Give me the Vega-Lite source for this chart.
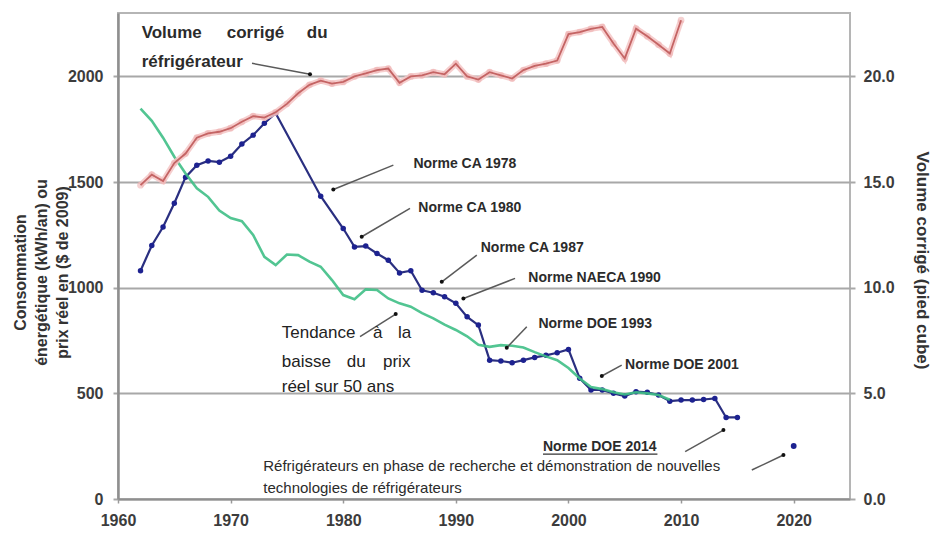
{
  "$schema": "https://vega.github.io/schema/vega-lite/v6.json",
  "width": 732,
  "height": 486,
  "autosize": {"type": "none"},
  "padding": {"left": 118, "top": 13, "right": 82, "bottom": 35},
  "background": "white",
  "config": {
    "font": "Liberation Sans",
    "view": {"stroke": "#b5b5b5", "strokeWidth": 2}
  },
  "datasets": {
    "conso": [
      {"year": 1962, "kwh": 1080}, {"year": 1963, "kwh": 1200}, {"year": 1964, "kwh": 1287}, {"year": 1965, "kwh": 1400},
      {"year": 1966, "kwh": 1523}, {"year": 1967, "kwh": 1580}, {"year": 1968, "kwh": 1600}, {"year": 1969, "kwh": 1594},
      {"year": 1970, "kwh": 1622}, {"year": 1971, "kwh": 1680}, {"year": 1972, "kwh": 1722}, {"year": 1973, "kwh": 1778},
      {"year": 1974, "kwh": 1826}, {"year": 1978, "kwh": 1433}, {"year": 1980, "kwh": 1280}, {"year": 1981, "kwh": 1193},
      {"year": 1982, "kwh": 1197}, {"year": 1983, "kwh": 1162}, {"year": 1984, "kwh": 1130}, {"year": 1985, "kwh": 1070},
      {"year": 1986, "kwh": 1080}, {"year": 1987, "kwh": 988}, {"year": 1988, "kwh": 976}, {"year": 1989, "kwh": 957},
      {"year": 1990, "kwh": 926}, {"year": 1991, "kwh": 862}, {"year": 1992, "kwh": 823}, {"year": 1993, "kwh": 657},
      {"year": 1994, "kwh": 653}, {"year": 1995, "kwh": 645}, {"year": 1996, "kwh": 657}, {"year": 1997, "kwh": 670},
      {"year": 1998, "kwh": 680}, {"year": 1999, "kwh": 692}, {"year": 2000, "kwh": 708}, {"year": 2001, "kwh": 571},
      {"year": 2002, "kwh": 516}, {"year": 2003, "kwh": 516}, {"year": 2004, "kwh": 500}, {"year": 2005, "kwh": 487},
      {"year": 2006, "kwh": 508}, {"year": 2007, "kwh": 505}, {"year": 2008, "kwh": 492}, {"year": 2009, "kwh": 463},
      {"year": 2010, "kwh": 468}, {"year": 2011, "kwh": 468}, {"year": 2012, "kwh": 471}, {"year": 2013, "kwh": 476},
      {"year": 2014, "kwh": 386}, {"year": 2015, "kwh": 386}
    ],
    "proto": [{"year": 2020, "kwh": 251}],
    "prix": [
      {"year": 1962, "prix": 1848}, {"year": 1963, "prix": 1790}, {"year": 1964, "prix": 1710}, {"year": 1965, "prix": 1620},
      {"year": 1966, "prix": 1540}, {"year": 1967, "prix": 1470}, {"year": 1968, "prix": 1430}, {"year": 1969, "prix": 1365},
      {"year": 1970, "prix": 1330}, {"year": 1971, "prix": 1315}, {"year": 1972, "prix": 1250}, {"year": 1973, "prix": 1146},
      {"year": 1974, "prix": 1107}, {"year": 1975, "prix": 1157}, {"year": 1976, "prix": 1154}, {"year": 1977, "prix": 1123},
      {"year": 1978, "prix": 1099}, {"year": 1979, "prix": 1036}, {"year": 1980, "prix": 965}, {"year": 1981, "prix": 945},
      {"year": 1982, "prix": 992}, {"year": 1983, "prix": 989}, {"year": 1984, "prix": 949}, {"year": 1985, "prix": 926},
      {"year": 1986, "prix": 910}, {"year": 1987, "prix": 880}, {"year": 1988, "prix": 855}, {"year": 1989, "prix": 825},
      {"year": 1990, "prix": 800}, {"year": 1991, "prix": 770}, {"year": 1992, "prix": 730}, {"year": 1993, "prix": 720},
      {"year": 1994, "prix": 728}, {"year": 1995, "prix": 725}, {"year": 1996, "prix": 717}, {"year": 1997, "prix": 695},
      {"year": 1998, "prix": 675}, {"year": 1999, "prix": 657}, {"year": 2000, "prix": 620}, {"year": 2001, "prix": 570},
      {"year": 2002, "prix": 530}, {"year": 2003, "prix": 520}, {"year": 2004, "prix": 505}, {"year": 2005, "prix": 495},
      {"year": 2006, "prix": 505}, {"year": 2007, "prix": 500}, {"year": 2008, "prix": 492}, {"year": 2009, "prix": 470}
    ],
    "volume": [
      {"year": 1962, "vol": 14.85}, {"year": 1963, "vol": 15.35}, {"year": 1964, "vol": 15.05}, {"year": 1965, "vol": 15.9},
      {"year": 1966, "vol": 16.35}, {"year": 1967, "vol": 17.1}, {"year": 1968, "vol": 17.3}, {"year": 1969, "vol": 17.38},
      {"year": 1970, "vol": 17.55}, {"year": 1971, "vol": 17.85}, {"year": 1972, "vol": 18.12}, {"year": 1973, "vol": 18.05},
      {"year": 1974, "vol": 18.3}, {"year": 1975, "vol": 18.7}, {"year": 1976, "vol": 19.2}, {"year": 1977, "vol": 19.6},
      {"year": 1978, "vol": 19.8}, {"year": 1979, "vol": 19.66}, {"year": 1980, "vol": 19.74}, {"year": 1981, "vol": 20.0},
      {"year": 1982, "vol": 20.14}, {"year": 1983, "vol": 20.3}, {"year": 1984, "vol": 20.37}, {"year": 1985, "vol": 19.7},
      {"year": 1986, "vol": 20.0}, {"year": 1987, "vol": 20.05}, {"year": 1988, "vol": 20.2}, {"year": 1989, "vol": 20.1},
      {"year": 1990, "vol": 20.6}, {"year": 1991, "vol": 20.0}, {"year": 1992, "vol": 19.85}, {"year": 1993, "vol": 20.2},
      {"year": 1994, "vol": 20.05}, {"year": 1995, "vol": 19.9}, {"year": 1996, "vol": 20.3}, {"year": 1997, "vol": 20.5},
      {"year": 1998, "vol": 20.6}, {"year": 1999, "vol": 20.75}, {"year": 2000, "vol": 22.0}, {"year": 2001, "vol": 22.1},
      {"year": 2002, "vol": 22.25}, {"year": 2003, "vol": 22.34}, {"year": 2004, "vol": 21.56}, {"year": 2005, "vol": 20.85},
      {"year": 2006, "vol": 22.26}, {"year": 2007, "vol": 21.9}, {"year": 2008, "vol": 21.5}, {"year": 2009, "vol": 21.08},
      {"year": 2010, "vol": 22.66}
    ],
    "labels": [
      {"group": "vol", "x": 1962.1, "y": 2204, "text": "Volume"},
      {"group": "vol", "x": 1969.65, "y": 2204, "text": "corrigé"},
      {"group": "vol", "x": 1976.76, "y": 2204, "text": "du"},
      {"group": "vol", "x": 1962.1, "y": 2069, "text": "réfrigérateur"},
      {"group": "norme", "x": 1986.23, "y": 1585, "text": "Norme CA 1978"},
      {"group": "norme", "x": 1986.67, "y": 1375, "text": "Norme CA 1980"},
      {"group": "norme", "x": 1992.21, "y": 1186, "text": "Norme CA 1987"},
      {"group": "norme", "x": 1996.44, "y": 1044, "text": "Norme NAECA 1990"},
      {"group": "norme", "x": 1997.33, "y": 828, "text": "Norme DOE 1993"},
      {"group": "norme", "x": 2005.03, "y": 634, "text": "Norme DOE 2001"},
      {"group": "norme", "x": 1997.74, "y": 247, "text": "Norme DOE 2014"},
      {"group": "tend", "x": 1974.54, "y": 785, "text": "Tendance"},
      {"group": "tend", "x": 1982.65, "y": 785, "text": "à"},
      {"group": "tend", "x": 1984.87, "y": 785, "text": "la"},
      {"group": "tend", "x": 1974.54, "y": 649, "text": "baisse"},
      {"group": "tend", "x": 1980.31, "y": 649, "text": "du"},
      {"group": "tend", "x": 1983.53, "y": 649, "text": "prix"},
      {"group": "tend", "x": 1974.54, "y": 530, "text": "réel sur 50 ans"},
      {"group": "rech", "x": 1972.9, "y": 156, "text": "Réfrigérateurs en phase de recherche et démonstration de nouvelles"},
      {"group": "rech", "x": 1972.9, "y": 52, "text": "technologies de réfrigérateurs"}
    ],
    "arrows": [
      {"x": 1971.9, "y": 2062, "x2": 1977.05, "y2": 2010},
      {"x": 1984.45, "y": 1580, "x2": 1979.12, "y2": 1465},
      {"x": 1985.93, "y": 1375, "x2": 1981.64, "y2": 1241},
      {"x": 1991.86, "y": 1154, "x2": 1988.75, "y2": 1028},
      {"x": 1995.26, "y": 1044, "x2": 1990.67, "y2": 949},
      {"x": 1996.3, "y": 815, "x2": 1994.52, "y2": 716},
      {"x": 2004.73, "y": 634, "x2": 2002.96, "y2": 582},
      {"x": 2010.36, "y": 224, "x2": 2013.76, "y2": 326},
      {"x": 1981.49, "y": 768, "x2": 1984.66, "y2": 875},
      {"x": 2016.28, "y": 137, "x2": 2019.09, "y2": 208}
    ],
    "underline": [{"x": 1997.74, "x2": 2007.9, "y": 212}]
  },
  "layer": [
    {
      "data": {"name": "conso"},
      "mark": {"type": "line", "color": "#2a2f80", "strokeWidth": 2.2},
      "encoding": {
        "x": {"field": "year", "type": "quantitative", "scale": {"domain": [1960, 2025], "nice": false, "zero": false},
          "axis": {"values": [1960, 1970, 1980, 1990, 2000, 2010, 2020], "format": "d", "title": null, "grid": false,
            "labelFlush": false, "labelOverlap": false,
            "labelFontSize": 16, "labelFontWeight": "bold", "labelColor": "#3c3c3c", "labelPadding": 9,
            "tickSize": 4, "tickColor": "#999999", "tickWidth": 1.5, "domainColor": "#8f8f8f", "domainWidth": 2}},
        "y": {"field": "kwh", "type": "quantitative", "scale": {"domain": [0, 2300], "nice": false},
          "axis": {"values": [0, 500, 1000, 1500, 2000], "format": "d", "grid": true, "gridColor": "#a8a8a8", "gridWidth": 2,
            "labelFontSize": 16, "labelFontWeight": "bold", "labelColor": "#3c3c3c", "labelPadding": 10,
            "tickSize": 5, "tickColor": "#a8a8a8", "tickWidth": 2, "domainColor": "#8f8f8f", "domainWidth": 2.5,
            "title": ["Consommation", "énergétique (kWh/an) ou", "prix réel en ($ de 2009)"],
            "titleAngle": -90, "titleX": -98, "titleY": 259, "titleAlign": "center", "titleBaseline": "middle",
            "titleFontSize": 16, "titleLineHeight": 21, "titleFontWeight": "bold", "titleColor": "#333333"}}
      }
    },
    {
      "data": {"name": "conso"},
      "mark": {"type": "point", "filled": true, "color": "#1d2290", "size": 30, "opacity": 1},
      "encoding": {
        "x": {"field": "year", "type": "quantitative"},
        "y": {"field": "kwh", "type": "quantitative", "scale": {"domain": [0, 2300], "nice": false}, "axis": null}
      }
    },
    {
      "data": {"name": "proto"},
      "mark": {"type": "point", "filled": true, "color": "#1d2290", "size": 34, "opacity": 1},
      "encoding": {
        "x": {"field": "year", "type": "quantitative"},
        "y": {"field": "kwh", "type": "quantitative", "scale": {"domain": [0, 2300], "nice": false}, "axis": null}
      }
    },
    {
      "data": {"name": "prix"},
      "mark": {"type": "line", "color": "#3fbf86", "strokeWidth": 2.6, "opacity": 0.9},
      "encoding": {
        "x": {"field": "year", "type": "quantitative"},
        "y": {"field": "prix", "type": "quantitative", "scale": {"domain": [0, 2300], "nice": false}, "axis": null}
      }
    },
    {
      "data": {"name": "arrows"},
      "mark": {"type": "rule", "color": "#5a5a5a", "strokeWidth": 1.5},
      "encoding": {
        "x": {"field": "x", "type": "quantitative"},
        "y": {"field": "y", "type": "quantitative", "scale": {"domain": [0, 2300], "nice": false}, "axis": null},
        "x2": {"field": "x2"},
        "y2": {"field": "y2"}
      }
    },
    {
      "data": {"name": "arrows"},
      "mark": {"type": "point", "filled": true, "color": "#111111", "size": 16, "opacity": 1},
      "encoding": {
        "x": {"field": "x2", "type": "quantitative"},
        "y": {"field": "y2", "type": "quantitative", "scale": {"domain": [0, 2300], "nice": false}, "axis": null}
      }
    },
    {
      "data": {"name": "underline"},
      "mark": {"type": "rule", "color": "#333333", "strokeWidth": 1.3},
      "encoding": {
        "x": {"field": "x", "type": "quantitative"},
        "x2": {"field": "x2"},
        "y": {"field": "y", "type": "quantitative", "scale": {"domain": [0, 2300], "nice": false}, "axis": null}
      }
    },
    {
      "data": {"name": "labels"},
      "transform": [{"filter": "datum.group === 'vol'"}],
      "mark": {"type": "text", "align": "left", "baseline": "middle", "fontSize": 17, "fontWeight": "bold", "color": "#2b2b2b"},
      "encoding": {
        "x": {"field": "x", "type": "quantitative"},
        "y": {"field": "y", "type": "quantitative", "scale": {"domain": [0, 2300], "nice": false}, "axis": null},
        "text": {"field": "text"}
      }
    },
    {
      "data": {"name": "labels"},
      "transform": [{"filter": "datum.group === 'norme'"}],
      "mark": {"type": "text", "align": "left", "baseline": "middle", "fontSize": 14, "fontWeight": "bold", "color": "#2b2b2b"},
      "encoding": {
        "x": {"field": "x", "type": "quantitative"},
        "y": {"field": "y", "type": "quantitative", "scale": {"domain": [0, 2300], "nice": false}, "axis": null},
        "text": {"field": "text"}
      }
    },
    {
      "data": {"name": "labels"},
      "transform": [{"filter": "datum.group === 'tend'"}],
      "mark": {"type": "text", "align": "left", "baseline": "middle", "fontSize": 17, "color": "#222222"},
      "encoding": {
        "x": {"field": "x", "type": "quantitative"},
        "y": {"field": "y", "type": "quantitative", "scale": {"domain": [0, 2300], "nice": false}, "axis": null},
        "text": {"field": "text"}
      }
    },
    {
      "data": {"name": "labels"},
      "transform": [{"filter": "datum.group === 'rech'"}],
      "mark": {"type": "text", "align": "left", "baseline": "middle", "fontSize": 15, "color": "#2b2b2b"},
      "encoding": {
        "x": {"field": "x", "type": "quantitative"},
        "y": {"field": "y", "type": "quantitative", "scale": {"domain": [0, 2300], "nice": false}, "axis": null},
        "text": {"field": "text"}
      }
    },
    {
      "data": {"name": "volume"},
      "mark": {"type": "line", "color": "#f4c6c6", "strokeWidth": 6, "opacity": 0.85},
      "encoding": {
        "x": {"field": "year", "type": "quantitative"},
        "y": {"field": "vol", "type": "quantitative", "scale": {"domain": [0, 23], "nice": false},
          "axis": {"orient": "right", "values": [0, 5, 10, 15, 20], "format": ".1f", "grid": false, "domain": false,
            "labelFontSize": 16, "labelFontWeight": "bold", "labelColor": "#3c3c3c", "labelPadding": 8,
            "tickSize": 5, "tickColor": "#a8a8a8", "tickWidth": 2,
            "title": "Volume corrigé (pied cube)", "titleAngle": 90, "titleX": 71, "titleY": 247,
            "titleAlign": "center", "titleBaseline": "middle", "titleFontSize": 17, "titleFontWeight": "bold", "titleColor": "#333333"}}
      }
    },
    {
      "data": {"name": "volume"},
      "mark": {"type": "point", "filled": true, "color": "#efb3b3", "size": 45, "opacity": 0.6},
      "encoding": {
        "x": {"field": "year", "type": "quantitative"},
        "y": {"field": "vol", "type": "quantitative", "scale": {"domain": [0, 23], "nice": false}, "axis": null}
      }
    },
    {
      "data": {"name": "volume"},
      "mark": {"type": "line", "color": "#c46464", "strokeWidth": 1.8},
      "encoding": {
        "x": {"field": "year", "type": "quantitative"},
        "y": {"field": "vol", "type": "quantitative", "scale": {"domain": [0, 23], "nice": false}, "axis": null}
      }
    }
  ],
  "resolve": {"scale": {"y": "independent"}}
}
